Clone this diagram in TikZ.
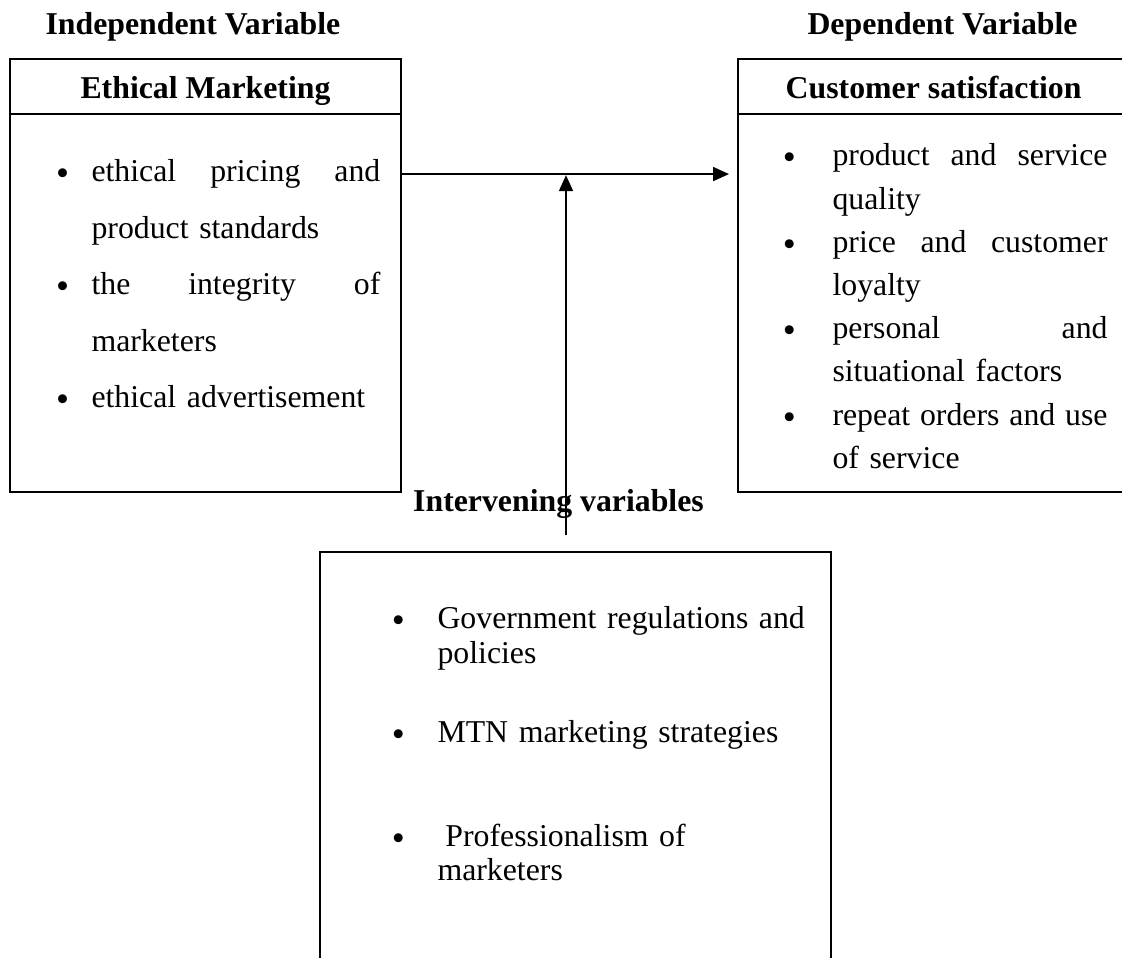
\documentclass[tikz,border=0pt]{standalone}
\usepackage{fontspec}
\setmainfont{Liberation Serif}
\usepackage{tikz}
\usetikzlibrary{arrows.meta,positioning,calc}
\tikzstyle{arrow} = [line width=0.75pt,-{Triangle[length=6pt,width=5.2pt]}]
\tikzstyle{framebox} = [rectangle, draw, line width=0.8pt, outer sep=0pt, inner sep=0pt, minimum width=147.6pt]
\tikzstyle{headbox} = [framebox, minimum height=20.8pt, text height=9.4pt, text depth=0pt, font=\fontsize{12}{14}\selectfont\bfseries]
\tikzstyle{bodybox} = [framebox, minimum height=142.7pt]
\tikzstyle{vartitle} = [inner sep=0pt, anchor=base west, font=\fontsize{12}{14}\selectfont\bfseries]
\tikzstyle{itemlist} = [inner sep=0pt, anchor=base west]
\newcommand{\bul}[1]{\leavevmode\llap{\raisebox{-1.5pt}{\fontsize{14}{14}\selectfont\textbullet}\hspace{#1}}}
\newlength{\ethw}\setlength{\ethw}{109pt}
\newlength{\satw}\setlength{\satw}{103.8pt}

\begin{document}
\begin{tikzpicture}[x=0.3774pt,y=-0.3774pt]
\useasboundingbox (0,0) rectangle (1122,958);
\clip (0,0) rectangle (1122,958);

% Variable titles
\node[vartitle] (indep) at (45,35) {Independent Variable};
\node[vartitle] (dep) at (807,35) {Dependent Variable};

% Independent variable
\node[headbox] (ethhead) at (205.5,86.5) {Ethical Marketing};
\node[bodybox, below=0pt of ethhead] (ethbody) {};
\node[itemlist, text width=\ethw, font=\fontsize{12}{21.3}\selectfont] (ethlist) at (91,182) {
\bul{8.5pt}\makebox[\ethw][s]{ethical\hfill pricing\hfill and}\\
product standards\\
\bul{8.5pt}\makebox[\ethw][s]{the\hfill integrity\hfill of}\\
marketers\\
\bul{8.5pt}ethical advertisement
};

% Dependent variable
\node[headbox, right=127.2pt of ethhead] (sathead) {Customer satisfaction};
\node[bodybox, below=0pt of sathead] (satbody) {};
\node[itemlist, text width=\satw, font=\fontsize{12}{16.3}\selectfont] (satlist) at (832,166) {
\bul{13.8pt}\makebox[\satw][s]{product\hfill and\hfill service}\\
quality\\
\bul{13.8pt}\makebox[\satw][s]{price\hfill and\hfill customer}\\
loyalty\\
\bul{13.8pt}\makebox[\satw][s]{personal\hfill and}\\
situational factors\\
\bul{13.8pt}\makebox[\satw][s]{repeat\hfill orders\hfill and\hfill use}\\
of service
};

% Intervening variables
\node[vartitle, anchor=base] (ivlabel) at (558.5,512) {Intervening variables};
\node[framebox, minimum width=192.9pt, minimum height=169pt, anchor=north] (intbox) at (575.5,552) {};
\node[itemlist, text width=160pt, font=\fontsize{12}{13}\selectfont] (intlist) at (437,629) {
\bul{12.3pt}Government regulations and\\
policies\\[16.8pt]
\bul{12.3pt}MTN marketing strategies\\[26.2pt]
\bul{12.3pt}\hspace*{3pt}Professionalism of\\
marketers
};

% Relationship
\coordinate (ethout) at ($(ethbody.north east)+(0,60)$);
\coordinate (ivsrc) at (566,535);
\draw[arrow, shorten >=3.4pt] (ethout) -- (ethout -| satbody.west);
\draw[arrow, shorten >=0.4pt] (ivsrc) -- (ivsrc |- ethout);
\end{tikzpicture}
\end{document}
